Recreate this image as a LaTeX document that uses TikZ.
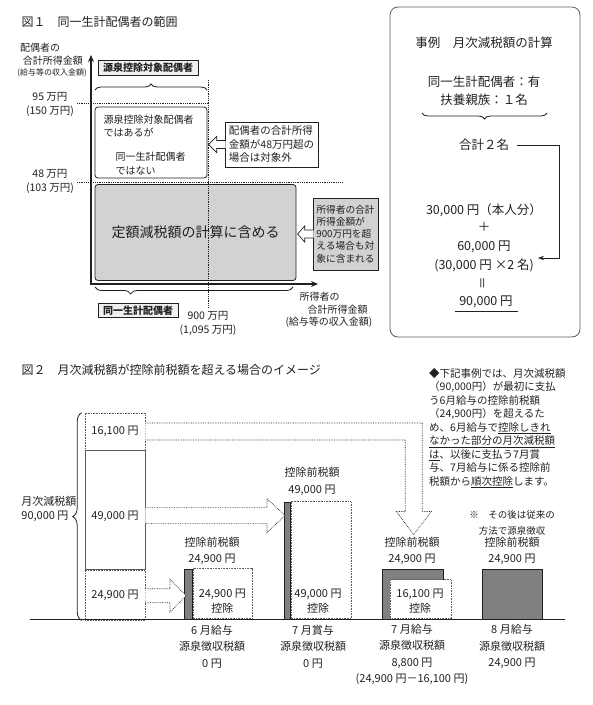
\documentclass[tikz,border=0pt]{standalone}
\usepackage{fontspec}
\setmainfont{Noto Sans CJK JP}
\usetikzlibrary{arrows.meta,positioning,calc,decorations.pathreplacing}
\definecolor{taxInk}{HTML}{231F20}
\definecolor{taxGray}{HTML}{D2D2D2}
\definecolor{taxShade}{HTML}{808080}
\definecolor{taxPale}{HTML}{F0F0F0}
\definecolor{taxLine}{HTML}{5A5A5A}
\XeTeXlinebreaklocale "ja"
\XeTeXlinebreakskip=0pt plus 1pt
\newcommand{\noteline}[1]{\makebox[143pt][s]{#1}}
\tikzset{
  every picture/.style={font=\fontsize{11}{15}\selectfont, text=taxInk},
  tax title/.style={font=\fontsize{12}{14}\selectfont, anchor=west},
  tax small/.style={font=\fontsize{10}{13.5}\selectfont},
  tax mid/.style={font=\fontsize{10.5}{14}\selectfont, align=center},
  tax tiny/.style={font=\fontsize{8}{9}\selectfont},
  tax large/.style={font=\fontsize{12.5}{15}\selectfont},
  tax box/.style={draw=taxInk, line width=0.8pt, rounded corners=3pt},
  tax tag/.style={draw=taxInk, line width=1pt, fill=taxPale,
    font=\fontsize{10}{12}\selectfont\bfseries, inner xsep=5pt, inner ysep=2.5pt},
  tax note/.style={draw=taxInk, line width=0.7pt, align=left, inner xsep=3pt,
    font=\fontsize{10.5}{13.5}\selectfont},
  tax dots/.style={draw=taxInk, line width=0.8pt, densely dotted},
  tax hollow/.style={draw=taxInk, line width=0.7pt, fill=white, line join=miter},
  tax hollow dots/.style={tax hollow, densely dotted},
  tax axis/.style={draw=taxInk, line width=1.4pt,
    arrows={Stealth[length=7pt,width=6pt]-Stealth[length=7pt,width=6pt]}},
  tax arrow/.style={-{Stealth[length=6pt,width=4.5pt]}, draw=taxInk, line width=0.7pt},
  tax brace/.style={draw=taxInk, line width=0.8pt, decorate},
  tax seg/.style={draw=taxLine, line width=0.6pt, minimum width=60pt, inner sep=0pt},
  tax seg dotted/.style={tax seg, densely dotted},
  tax bar/.style={draw=taxInk, line width=0.5pt, fill=taxShade, inner sep=0pt},
  tax stack/.style={align=center, font=\fontsize{11}{16.5}\selectfont}
}

\begin{document}
\begin{tikzpicture}[x=1pt, y=-1pt]
  \useasboundingbox (0,0) rectangle (593,705);

  % ---- figure 1
  \node[tax title] (title1) at (18,22) {図１\quad 同一生計配偶者の範囲};
  \node[tax small] (ylab1) at (40,48) {配偶者の};
  \node[tax small] (ylab2) at (53,61) {合計所得金額};
  \node[tax tiny] (ylab3) at (52,73) {(給与等の収入金額)};

  \coordinate (origin) at (91,284);
  \coordinate (ytip) at (91,55);
  \coordinate (xtip) at (318,284);

  \node[tax tag] (tagsrc) at (148,68) {源泉控除対象配偶者};
  \draw[tax brace, decoration={brace, amplitude=6pt}] (95,90) -- (207,90);

  \node[tax box, fill=white, minimum width=112pt, minimum height=71pt] (notsame) at (151,142.5) {};
  \node[tax small, anchor=west, align=left] (notsame1) at (100,126) {源泉控除対象配偶者\\ではあるが};
  \node[tax small, anchor=west, align=left] (notsame2) at (112,163.5) {同一生計配偶者\\ではない};

  \node[tax box, fill=taxGray, minimum width=201pt, minimum height=96pt,
    font=\fontsize{14}{16}\selectfont] (incl) at (195.5,232.5) {定額減税額の計算に含める};

  % limits
  \coordinate (lim95a) at (77,103);  \coordinate (lim95b) at (210,103);
  \coordinate (lim48a) at (77,182);  \coordinate (lim48b) at (342,182);
  \coordinate (lim900a) at (208,80); \coordinate (lim900b) at (208,308);
  \draw[tax dots] (lim95a) -- (lim95b);
  \draw[tax dots] (lim48a) -- (lim48b);
  \draw[tax dots] (lim900a) -- (lim900b);
  \node[tax mid] (lv95) at (50,104) {95 万円\\(150 万円)};
  \node[tax mid] (lv48) at (50,181.5) {48 万円\\(103 万円)};
  \node[tax mid] (lv900) at (208,323.5) {900 万円\\(1,095 万円)};

  \node[tax note, fill=white, minimum width=93pt, minimum height=45pt] (over48) at (271.5,144.5)
    {配偶者の合計所得\\金額が48万円超の\\場合は対象外};
  \draw[tax hollow] ($(over48.west)+(1,-4)$) -- ++(-9,0) -- ++(0,-4) -- ++(-8,8)
    -- ++(8,8) -- ++(0,-4) -- ++(9,0);

  \node[tax note, fill=taxGray, minimum width=65pt, minimum height=72pt,
    font=\fontsize{9.7}{12.2}\selectfont] (over900) at (345.5,234)
    {所得者の合計\\所得金額が\\900万円を超\\える場合も対\\象に含まれる};
  \draw[tax hollow] ($(over900.west)+(1,-4)$) -- ++(-9,0) -- ++(0,-4) -- ++(-7,8)
    -- ++(7,8) -- ++(0,-4) -- ++(9,0);

  \draw[tax axis] (ytip) -- (origin) -- (xtip);

  \draw[tax brace, decoration={brace, mirror, amplitude=7pt, aspect=0.18}] (95,287) -- (293,287);
  \node[tax tag] (tagsame) at (138,310.5) {同一生計配偶者};

  \node[tax small, anchor=west] (xlab1) at (296,297) {所得者の};
  \node[tax small, anchor=west] (xlab2) at (304,309.5) {合計所得金額};
  \node[tax small, anchor=west] (xlab3) at (282,322) {(給与等の収入金額)};

  % example box
  \node[tax box, draw=taxLine, rounded corners=8pt, minimum width=190pt, minimum height=330pt] (example) at (485,172) {};
  \node[tax large] (extitle) at (484,43) {事例\quad 月次減税額の計算};
  \node[tax large] (exspouse) at (484,82) {同一生計配偶者：有};
  \node[tax large] (exdep) at (484,100) {扶養親族：１名};
  \draw[tax brace, decoration={brace, amplitude=6pt}] (547,113) -- (422,113);
  \node[tax large] (exsum) at (484,145) {合計２名};
  \node[tax large] (exbase) at (484,210) {30,000 円（本人分）};
  \node[tax large] (explus) at (484,227) {＋};
  \node[tax large] (exadd) at (484,247) {60,000 円};
  \node[tax large] (exmul) at (484,265) {(30,000 円 ×2 名)};
  \node[tax large, rotate=90] (exeq) at (484,283) {＝};
  \node[tax large, inner sep=2pt] (extotal) at (486,302) {90,000 円};
  \draw[taxInk, line width=0.7pt] ($(extotal.south west)+(-2,1)$) -- ($(extotal.south east)+(3,1)$);
  \coordinate (exbend) at (559,258);
  \coordinate (extip) at (538,258);
  \draw[tax arrow] ($(exsum.east)+(4,0)$) -| (exbend) -- (extip);

  % ---- figure 2
  \node[tax title] (title2) at (18,370) {図２\quad 月次減税額が控除前税額を超える場合のイメージ};

  \node[anchor=north west, inner sep=0pt, align=left, font=\fontsize{10.5}{13.5}\selectfont] (note) at (429,368)
    {\noteline{◆下記事例では、月次減税額}\\
     \noteline{（90,000円）が最初に支払}\\
     \noteline{う6月給与の控除前税額}\\
     \noteline{（24,900円）を超えるた}\\
     \noteline{め、6月給与で\underline{控除しきれ}}\\
     \noteline{\underline{なかった部分の月次減税額}}\\
     \noteline{\underline{は}、以後に支払う7月賞}\\
     \noteline{与、7月給与に係る控除前}\\
     税額から\underline{順次控除}します。};
  \node[align=center, font=\fontsize{9.5}{16}\selectfont] (later) at (512,522.5) {※\quad その後は従来の\\方法で源泉徴収};

  % left stack
  \node[tax seg dotted, minimum height=37pt] (seg16) at (115,431.5) {16,100 円};
  \node[tax seg, minimum height=119pt, below=0pt of seg16] (seg49) {};
  \node[tax seg dotted, minimum height=50pt, below=0pt of seg49] (seg24) {24,900 円};
  \node (seg49txt) at ($(seg49.center)+(0,6)$) {49,000 円};
  \draw[tax brace, decoration={brace, amplitude=9pt}] ($(seg24.south west)+(-3,0)$) -- ($(seg16.north west)+(-3,0)$);
  \node[anchor=east] (monthly) at (80,501) {月次減税額};
  \node[anchor=east] (monthlyval) at (72,516) {90,000 円};

  % bars
  \node[tax bar, minimum width=8pt, minimum height=50pt, anchor=south west] (b6strip) at (184,619) {};
  \node[tax seg dotted, minimum width=59pt, minimum height=50pt, right=0pt of b6strip] (b6) {};
  \node[tax stack, font=\fontsize{11}{15}\selectfont] (b6cut) at ($(b6.center)+(0,7.5)$) {24,900 円\\控除};

  \node[tax bar, minimum width=6pt, minimum height=117pt, anchor=south west] (b7bstrip) at (284,619) {};
  \node[tax seg dotted, minimum width=60pt, minimum height=117pt, right=0pt of b7bstrip] (b7b) {};
  \node[tax stack, font=\fontsize{11}{15}\selectfont] (b7bcut) at (318,601.5) {49,000 円\\控除};

  \node[tax bar, minimum width=61pt, minimum height=50pt, anchor=south west] (b7s) at (382,619) {};
  \node[tax seg dotted, fill=white, minimum width=61pt, minimum height=39pt, anchor=south west] (b7scut) at (390,619) {};
  \node[tax stack, font=\fontsize{11}{15}\selectfont] (b7scuttxt) at (420,601.5) {16,100 円\\控除};

  \node[tax bar, minimum width=60pt, minimum height=50pt, anchor=south west] (b8) at (482,619) {};

  % carried amounts
  \coordinate (a1tip) at ($(b7s.north)+(1,-34)$);
  \draw[tax hollow dots] ($(seg16.east)+(0,-8.5)$) -| ($(a1tip)+(8.5,-23)$) -- ++(9,0) -- (a1tip)
    -- ++(-17.5,-23) -- ++(9,0) |- ($(seg16.east)+(0,8.5)$);
  \coordinate (a2tip) at ($(b7bstrip.west |- seg49.east)+(1,5.5)$);
  \draw[tax hollow dots] ($(seg49.east |- a2tip)+(0,-8)$) -- ($(a2tip)+(-18,-8)$) -- ++(0,-9) -- (a2tip)
    -- ++(-18,17) -- ++(0,-9) -- ($(seg49.east |- a2tip)+(0,8)$);
  \coordinate (a3tip) at ($(b6strip.west |- seg24.east)+(2,0.5)$);
  \draw[tax hollow dots] ($(seg24.east |- a3tip)+(0,-7)$) -- ($(a3tip)+(-16,-7)$) -- ++(0,-9.5) -- (a3tip)
    -- ++(-16,16.5) -- ++(0,-9.5) -- ($(seg24.east |- a3tip)+(0,7)$);

  % labels above and below
  \node[tax stack] (b6pre) at (212,551) {控除前税額\\24,900 円};
  \node[tax stack] (b7bpre) at (312,481.5) {控除前税額\\49,000 円};
  \node[tax stack] (b7spre) at (412,551) {控除前税額\\24,900 円};
  \node[tax stack] (b8pre) at (512,551) {控除前税額\\24,900 円};
  \node[tax stack] (b6tax) at (212,646.5) {6 月給与\\源泉徴収税額\\0 円};
  \node[tax stack] (b7btax) at (313,646.5) {7 月賞与\\源泉徴収税額\\0 円};
  \node[tax stack] (b7stax) at (412,654.5) {7 月給与\\源泉徴収税額\\8,800 円\\(24,900 円－16,100 円)};
  \node[tax stack] (b8tax) at (512,646.5) {8 月給与\\源泉徴収税額\\24,900 円};

  \coordinate (groundL) at (30,619);
  \coordinate (groundR) at (565,619);
  \draw[taxInk, line width=1pt] (groundL) -- (groundR);
\end{tikzpicture}
\end{document}
